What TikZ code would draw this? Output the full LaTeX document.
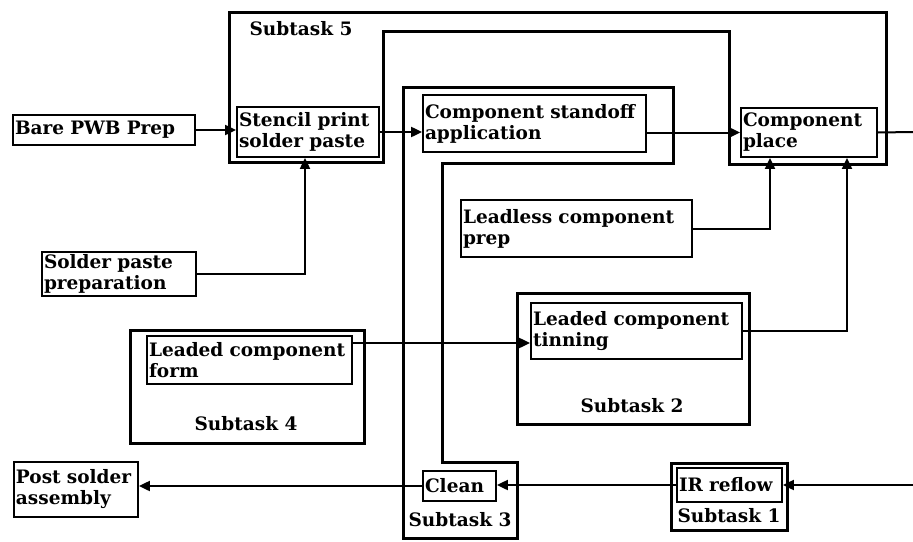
\documentclass[tikz,border=0pt]{standalone}
\usepackage{fontspec}
\setmainfont{DejaVu Serif}
\usepackage{tikz}
\usetikzlibrary{arrows.meta, positioning, calc}

\begin{document}
\begin{tikzpicture}[
        x=1pt, y=-1pt,
        task/.style={draw, line width=1.8pt, inner sep=2pt, align=left,
                     font=\fontsize{18.5}{21}\selectfont\bfseries},
        outline/.style={line width=3pt, line join=miter},
        sublabel/.style={font=\fontsize{18.5}{21}\selectfont\bfseries, inner sep=1pt},
        link/.style={line width=2pt},
        arrow/.style={link, -{Triangle[length=11pt, width=10pt]}}
    ]
        \useasboundingbox (0,0) rectangle (913,541);

        % Subtask outlines
        \draw[outline] (229,12) -- (886,12) -- (886,164) -- (729,164) -- (729,31)
            -- (383,31) -- (383,162) -- (229,162) -- cycle;
        \draw[outline] (403,87) -- (673,87) -- (673,163) -- (442,163) -- (442,462)
            -- (517,462) -- (517,538) -- (403,538) -- cycle;
        \draw[outline] (130,330) rectangle (364,443);
        \draw[outline] (517,293) rectangle (749,424);
        \draw[outline] (671,463) rectangle (787,530);

        \node[sublabel] (sub5) at (301,29) {Subtask 5};
        \node[sublabel] (sub4) at (246,424) {Subtask 4};
        \node[sublabel] (sub2) at (632,406) {Subtask 2};
        \node[sublabel] (sub3) at (460,520) {Subtask 3};
        \node[sublabel] (sub1) at (729,516) {Subtask 1};

        % Process steps
        \node[task, text width=178pt, minimum height=30pt] (bare) at (104,130) {Bare PWB Prep};
        \node[task, text width=138pt, minimum height=50pt] (stencil) at (308,132)
            {Stencil print\\solder paste};
        \node[task, text width=219pt, minimum height=57pt] (standoff) at (534.5,123.5)
            {Component standoff\\application};
        \node[task, text width=132pt, minimum height=49pt] (place) at (809,132.5)
            {Component\\place};
        \node[task, text width=150pt, minimum height=44pt] (paste) at (119,274)
            {Solder paste\\preparation};
        \node[task, text width=227pt, minimum height=57pt] (leadless) at (576.5,228.5)
            {Leadless component\\prep};
        \node[task, text width=207pt, minimum height=56pt] (tin) at (636.5,331)
            {Leaded component\\tinning};
        \node[task, text width=201pt, minimum height=48pt] (form) at (249.5,360)
            {Leaded component\\form};
        \node[task, text width=120pt, minimum height=55pt] (post) at (76,489.5)
            {Post solder\\assembly};
        \node[task, text width=69pt, minimum height=30pt] (clean) at (459.5,486) {Clean};
        \node[task, text width=101pt, minimum height=34pt] (ir) at (729.5,485) {IR reflow};

        \coordinate (outR) at (913,132);
        \coordinate (inR) at (913,485);

        % Flow
        \draw[arrow] (bare.east) -- (bare.east -| stencil.west);
        \draw[arrow] (stencil.east) -- (stencil.east -| standoff.west);
        \draw[arrow] (place.west -| standoff.east) -- (place.west);
        \draw[link] (place.east) -- (outR);
        \draw[arrow] (paste.east) -| ([xshift=-3pt]stencil.south);
        \draw[arrow] (leadless.east) -| ([xshift=-39pt]place.south);
        \draw[arrow] (tin.east) -| ([xshift=38pt]place.south);
        \draw[arrow] ([yshift=-12pt]tin.west -| form.east) -- ([yshift=-12pt]tin.west);
        \draw[arrow] (inR) -- (ir.east);
        \draw[arrow] (ir.west) -- (ir.west -| clean.east);
        \draw[arrow] (clean.west) -- (clean.west -| post.east);
    \end{tikzpicture}
\end{document}
